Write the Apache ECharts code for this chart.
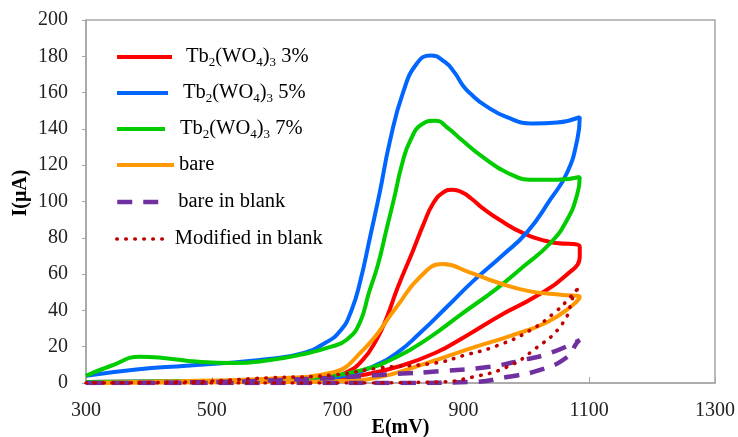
<!DOCTYPE html>
<html>
<head>
<meta charset="utf-8">
<script src="https://cdn.jsdelivr.net/npm/echarts@6/dist/echarts.min.js"></script>
<style>
html,body{margin:0;padding:0;background:#fff;}
#chart{width:738px;height:437px;}
</style>
</head>
<body>
<div id="chart"></div>
<script>
// ---- data (E in mV, I in µA) ----
const xTicks = [300, 500, 700, 900, 1100, 1300];
const yMin = 0, yMax = 200, yStep = 20;

const seriesNames = ['Tb2(WO4)3 3%', 'Tb2(WO4)3 5%', 'Tb2(WO4)3 7%', 'bare', 'bare in blank', 'Modified in blank'];

const tb3Fwd = [[300,0.3],[450,0.8],[600,1.8],[688,3.3],[715,6],[740,12.7],[762,24],[778,36],[796,53],[820,73],[836,87],[852,99],[868,105],[883,106.5],[898,105],[913,101.5],[930,96.5],[958,89.8],[995,82.6],[1038,77.7],[1085,75]];
const tb3Rev = [[1085,70],[1062,59],[1014,47.5],[960,37.5],[907,26.5],[855,16.5],[794,8.8],[740,4.4],[690,2],[500,1],[300,0.5]];

const tb5Fwd = [[300,4],[380,7.5],[460,9.5],[540,11.5],[590,13.2],[645,16.5],[680,22],[705,29],[722,40],[736,56],[752,81],[767,105],[783,133],[804,160],[826,176],[848,180.5],[870,177],[886,171],[900,163.5],[914,158.5],[932,153.5],[969,146.5],[1011,143],[1049,143.5],[1085,146.5]];
const tb5Rev = [[1081,134],[1065,116],[1038,101],[1001,83],[961,70],[915,56],[874,42],[831,27.5],[794,16.5],[751,8.3],[715,4.4],[688,2.8],[600,1.5],[450,0.8],[300,0.5]];

const tb7Fwd = [[300,4],[340,9.5],[386,14.5],[430,13.5],[475,11.8],[534,11],[590,12.5],[640,15.5],[690,20],[715,24],[735,33],[750,50],[764,65],[778,85],[790,102],[802,120],[816,134],[836,143],[855,144.5],[877,140],[897,134],[931,124.5],[969,116],[1011,112],[1049,112],[1085,113.5]];
const tb7Rev = [[1081,104],[1065,90],[1038,77],[995,64],[953,52],[899,38.5],[847,25.3],[794,14.3],[740,7.2],[688,3.9],[600,1.5],[450,1],[300,0.5]];

const bareFwd = [[300,0],[450,1],[600,2.5],[688,5.5],[740,18],[794,42],[831,58.4],[867,65.5],[910,61],[953,55.5],[1006,50.5],[1058,48.5],[1085,47.5]];
const bareRev = [[1074,43],[1033,33.5],[975,26],[920,20],[868,14],[820,8.5],[767,3.3],[715,1.2],[600,0.5],[300,0]];

const blankFwd = [[300,0],[500,0.5],[600,1.5],[700,3],[794,5],[863,6.5],[942,9],[995,12.7],[1038,16.5],[1085,23.7]];
const blankRev = [[1080,22],[1065,14.3],[1022,7.2],[969,3.3],[915,0.6],[800,0],[300,0]];

const modFwd = [[300,0],[450,0.5],[588,2.8],[693,4.4],[767,8.3],[855,11],[899,15],[953,20.5],[1006,29],[1049,40],[1069,47],[1085,53]];
const modRev = [[1077,49.6],[1058,33],[1011,18],[969,8.8],[915,3.3],[863,0.6],[700,0],[300,0]];

// ---- styling ----
const serif = "'Liberation Serif','Times New Roman',serif";
const colors = ['#FF0000', '#0066FF', '#00CC00', '#FF9900', '#7030A0', '#C00000'];
const lineStyles = [
  {width: 4, type: 'solid'},
  {width: 4, type: 'solid'},
  {width: 4, type: 'solid'},
  {width: 4, type: 'solid'},
  {width: 4.5, type: [15, 11]},
  {width: 3.6, type: [0.5, 8.5], cap: 'round'}
];
const dataSets = [
  tb3Fwd.concat(tb3Rev), tb5Fwd.concat(tb5Rev), tb7Fwd.concat(tb7Rev),
  bareFwd.concat(bareRev), blankFwd.concat(blankRev), modFwd.concat(modRev)
];

const series = seriesNames.map((n, i) => ({
  name: n,
  type: 'line',
  data: dataSets[i],
  showSymbol: false,
  symbol: 'none',
  smooth: 0.5,
  color: colors[i],
  lineStyle: Object.assign({color: colors[i]}, lineStyles[i]),
  z: 2 + i
}));

function fmt(name) {
  const m = name.match(/^Tb2\(WO4\)3 (.*)$/);
  if (m) return '{n|Tb}{s|2}{n|(WO}{s|4}{n|)}{s|3}{n| ' + m[1] + '}';
  return '{n|' + name + '}';
}

const rowCenters = [58.5, 94.5, 130.5, 166.5, 203.5, 240.5];
const iconWidths = [55, 51, 48, 57, 45, 52];
const textPads = [9, 10, 10, 0, 11, 1];

const legends = seriesNames.map((n, i) => ({
  data: [n],
  left: 115,
  top: rowCenters[i] - 12,
  padding: 0,
  itemWidth: iconWidths[i],
  itemHeight: 14,
  selectedMode: false,
  formatter: fmt,
  lineStyle: Object.assign({}, lineStyles[i], {color: colors[i]}),
  itemStyle: {opacity: 0},
  textStyle: {
    rich: {
      n: {fontFamily: serif, fontSize: 20.5, color: '#000', lineHeight: 24},
      s: {fontFamily: serif, fontSize: 13, color: '#000', padding: [11, 0, 0, 0]}
    },
    padding: [0, 0, 0, textPads[i]]
  }
}));

const chart = echarts.init(document.getElementById('chart'), null, {renderer: 'canvas'});
chart.setOption({
  animation: false,
  backgroundColor: '#fff',
  grid: {left: 86, right: 23, top: 20, bottom: 54, show: true, borderColor: '#A6A6A6', borderWidth: 1.5, outerBoundsMode: 'none', containLabel: false},
  legend: legends,
  xAxis: {
    type: 'value', min: 300, max: 1300,
    axisLine: {show: true, onZero: false, lineStyle: {color: '#A6A6A6', width: 1.5}},
    axisTick: {show: true, inside: true, length: 6, customValues: xTicks, lineStyle: {color: '#A6A6A6', width: 1}},
    axisLabel: {customValues: xTicks, margin: 18, fontSize: 20, fontFamily: serif, color: '#222', formatter: v => String(v)},
    splitLine: {show: false},
    name: 'E(mV)', nameLocation: 'middle', nameGap: 35, nameMoveOverlap: false,
    nameTextStyle: {fontFamily: serif, fontWeight: 'bold', fontSize: 20, color: '#000'}
  },
  yAxis: {
    type: 'value', min: yMin, max: yMax, interval: yStep,
    axisLine: {show: true, lineStyle: {color: '#A6A6A6', width: 1.5}},
    axisTick: {show: true, length: 4, lineStyle: {color: '#A6A6A6', width: 1}},
    axisLabel: {margin: 18, fontSize: 20, fontFamily: serif, color: '#222', formatter: v => String(v)},
    splitLine: {show: false}
  },
  graphic: [{
    type: 'text', x: 21, y: 193, rotation: Math.PI / 2,
    style: {text: 'I(μA)', font: 'bold 20px ' + serif, textAlign: 'center', textVerticalAlign: 'middle', fill: '#000'}
  }],
  series: series
});
</script>
</body>
</html>
